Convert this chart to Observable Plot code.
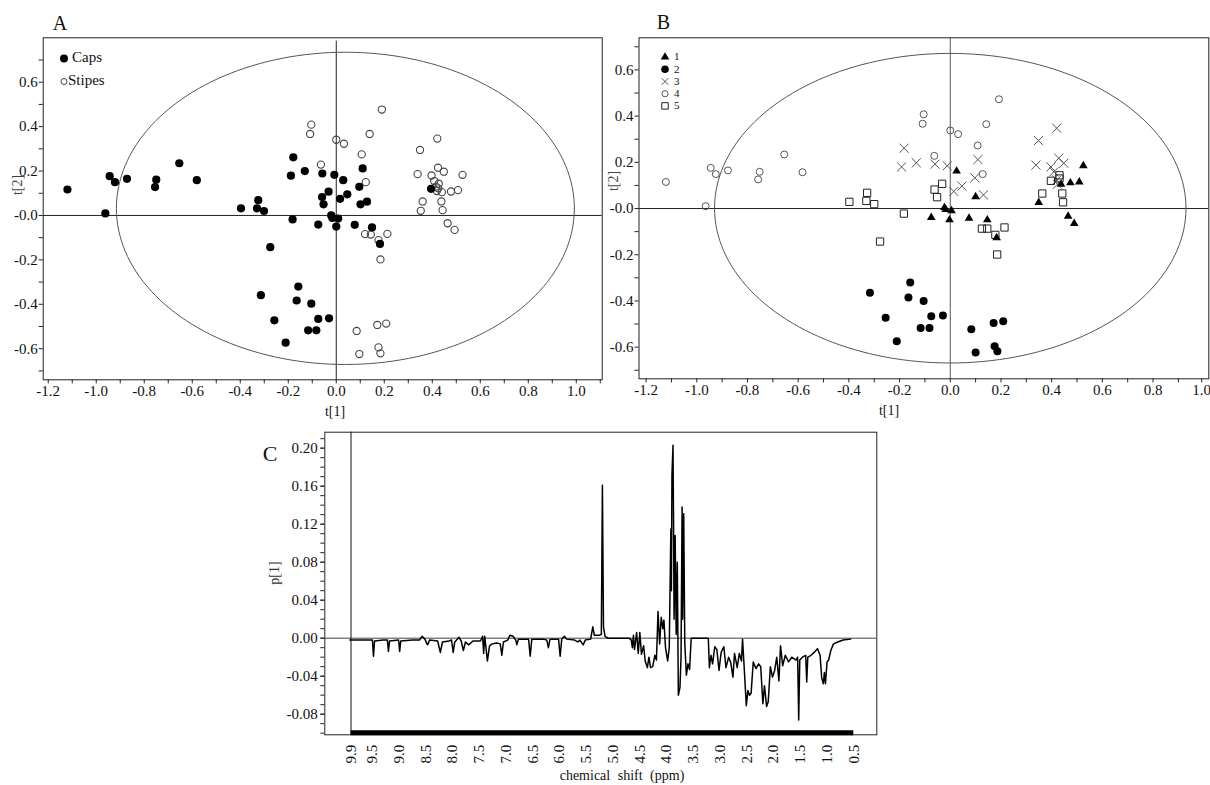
<!DOCTYPE html>
<html><head><meta charset="utf-8">
<script src="https://cdn.jsdelivr.net/npm/d3@7"></script>
<script src="https://cdn.jsdelivr.net/npm/@observablehq/plot@0.6"></script>
<style>
body{margin:0;background:#fff;}
#wrap{position:relative;width:1210px;height:785px;font-family:"Liberation Serif","Times New Roman",serif;color:#111;overflow:hidden;}
#wrap svg, #wrap svg g, #wrap svg text{font-family:"Liberation Serif","Times New Roman",serif !important;}
</style></head><body><div id="wrap"></div>
<script>
// ---------- Panel A data (t[1], t[2]) ----------
const capsX = [-1.12,-0.962,-0.944,-0.922,-0.872,-0.750,-0.755,-0.654,-0.581,-0.397,-0.325,-0.330,-0.301,-0.275,-0.179,-0.189,-0.131,-0.182,-0.058,-0.008,-0.032,-0.059,-0.053,0.029,0.016,0.046,-0.021,-0.016,0.008,0.0,-0.075,0.077,0.110,0.096,0.101,0.128,0.149,0.182,0.395,-0.158,-0.314,-0.165,-0.104,-0.258,-0.075,-0.030,-0.117,-0.083,-0.211];
const capsY = [0.117,0.009,0.177,0.150,0.165,0.161,0.128,0.235,0.159,0.032,0.069,0.032,0.020,-0.143,0.262,0.179,0.200,-0.018,0.189,0.183,0.107,0.083,0.050,0.159,0.075,0.095,0.0,-0.011,-0.014,-0.050,-0.041,-0.042,0.212,0.129,0.050,0.062,-0.054,-0.128,0.120,-0.320,-0.359,-0.383,-0.397,-0.472,-0.466,-0.463,-0.517,-0.517,-0.573];
const stipesX = [-0.104,-0.109,0.190,0.0,0.032,0.139,0.106,-0.064,0.123,0.120,0.144,0.213,0.176,0.184,0.085,0.171,0.208,0.176,0.184,0.096,0.421,0.349,0.339,0.397,0.424,0.448,0.526,0.408,0.427,0.419,0.440,0.478,0.507,0.360,0.438,0.352,0.443,0.464,0.493,0.415,0.425];
const stipesY = [0.409,0.367,0.477,0.341,0.323,0.367,0.275,0.229,0.150,-0.084,-0.086,-0.083,-0.111,-0.198,-0.520,-0.493,-0.487,-0.594,-0.621,-0.624,0.346,0.295,0.186,0.180,0.215,0.197,0.183,0.155,0.143,0.110,0.105,0.108,0.114,0.063,0.063,0.021,0.024,-0.035,-0.065,0.130,0.122];
const legendA = ["Caps", "Stipes"];

// ---------- Panel B data (five classes) ----------
const c1X = [0.025,0.100,-0.023,-0.018,0.005,-0.075,-0.003,0.074,0.146,0.183,0.349,0.437,0.474,0.509,0.525,0.465,0.489];
const c1Y = [0.162,0.051,0.004,-0.004,-0.010,-0.039,-0.049,-0.042,-0.049,-0.126,0.026,0.105,0.111,0.115,0.185,-0.033,-0.065];
const c2X = [-0.317,-0.158,-0.165,-0.105,-0.255,-0.075,-0.029,-0.117,-0.082,-0.211,0.083,0.171,0.209,0.175,0.186,0.100];
const c2Y = [-0.364,-0.320,-0.385,-0.400,-0.473,-0.466,-0.463,-0.517,-0.517,-0.574,-0.522,-0.495,-0.488,-0.596,-0.618,-0.623];
const c3X = [-0.182,-0.192,-0.134,-0.060,-0.012,0.109,0.097,0.014,0.046,0.131,0.420,0.348,0.338,0.428,0.448,0.397,0.409,0.420,0.423];
const c3Y = [0.261,0.180,0.198,0.192,0.185,0.212,0.133,0.074,0.097,0.059,0.348,0.294,0.188,0.218,0.196,0.180,0.159,0.123,0.105];
const c4X = [-1.122,-0.965,-0.945,-0.925,-0.877,-0.752,-0.758,-0.655,-0.583,-0.105,-0.109,0.192,0.0,0.031,0.142,0.108,-0.063,0.128];
const c4Y = [0.115,0.010,0.176,0.149,0.165,0.159,0.126,0.234,0.157,0.408,0.367,0.473,0.338,0.322,0.365,0.273,0.228,0.149];
const c5X = [-0.398,-0.328,-0.331,-0.300,-0.183,-0.277,-0.062,-0.032,-0.052,0.125,0.146,0.214,0.178,0.185,0.363,0.397,0.431,0.431,0.442,0.445];
const c5Y = [0.029,0.068,0.033,0.019,-0.022,-0.143,0.082,0.107,0.049,-0.087,-0.087,-0.082,-0.114,-0.199,0.065,0.120,0.144,0.130,0.065,0.027];
const legendB = ["1", "2", "3", "4", "5"];

// ---------- Panel C data (loading p[1] vs chemical shift) ----------
const specAromatic = [[9.92,-0.002],[9.75,-0.002],[9.55,-0.002],[9.50,-0.002],[9.48,-0.019],[9.46,-0.003],[9.30,-0.002],[9.22,-0.002],[9.20,-0.014],[9.18,-0.003],[9.01,-0.002],[8.99,-0.014],[8.97,-0.003],[8.75,-0.002],[8.62,-0.002],[8.57,0.002],[8.52,-0.001],[8.47,-0.007],[8.43,-0.002],[8.28,-0.003],[8.23,-0.015],[8.19,-0.004],[8.07,-0.003],[8.02,-0.002],[7.99,-0.015],[7.96,-0.004],[7.88,0.001],[7.84,-0.003],[7.80,-0.013],[7.76,-0.004],[7.70,-0.007],[7.62,-0.003],[7.48,-0.003],[7.44,0.002],[7.42,-0.016],[7.40,0.002],[7.35,-0.024],[7.31,-0.008],[7.26,-0.006],[7.18,-0.005],[7.11,-0.006],[7.08,-0.018],[7.05,-0.004],[6.97,-0.002],[6.93,0.003],[6.87,0.002],[6.82,-0.002],[6.80,-0.007],[6.77,-0.001],[6.58,-0.001],[6.55,-0.019],[6.52,-0.001],[6.30,-0.001],[6.24,-0.002],[6.21,-0.010],[6.18,-0.001],[6.02,-0.001],[5.99,-0.019],[5.96,-0.001],[5.91,0.002],[5.87,-0.001],[5.72,-0.002],[5.66,-0.004],[5.62,-0.002],[5.56,-0.007],[5.52,-0.002],[5.42,-0.001],[5.38,0.012],[5.35,0.003],[5.26,0.003],[5.22,0.004],[5.20,0.161],[5.18,0.012],[5.15,0.002],[5.10,0.0]];
const specSugar = [[4.70,0.0],[4.66,-0.002],[4.64,-0.010],[4.62,0.003],[4.60,-0.012],[4.56,0.006],[4.53,-0.016],[4.50,0.006],[4.47,-0.017],[4.43,-0.008],[4.40,-0.024],[4.36,-0.031],[4.33,-0.020],[4.30,-0.031],[4.26,-0.030],[4.22,-0.018],[4.19,-0.023],[4.16,0.028],[4.13,-0.006],[4.10,0.022],[4.07,0.010],[4.05,0.019],[4.02,-0.010],[3.98,-0.024],[3.95,-0.010],[3.92,0.115],[3.91,0.050],[3.90,0.171],[3.88,0.203],[3.87,0.120],[3.86,0.020],[3.84,0.108],[3.82,0.004],[3.80,0.080],[3.78,-0.060],[3.75,-0.052],[3.73,-0.020],[3.71,0.138],[3.70,0.020],[3.68,0.131],[3.66,-0.005],[3.63,-0.039],[3.60,-0.027],[3.57,-0.033],[3.54,0.0],[3.22,0.0]];
const specAliphatic = [[3.20,-0.031],[3.17,-0.018],[3.14,-0.027],[3.10,-0.009],[3.06,-0.012],[3.02,-0.034],[2.98,-0.015],[2.93,-0.009],[2.89,-0.031],[2.84,-0.020],[2.80,-0.026],[2.76,-0.041],[2.73,-0.016],[2.68,-0.031],[2.64,-0.016],[2.60,-0.024],[2.58,-0.001],[2.55,-0.030],[2.51,-0.071],[2.48,-0.055],[2.45,-0.060],[2.42,-0.058],[2.38,-0.025],[2.33,-0.032],[2.28,-0.027],[2.24,-0.030],[2.20,-0.069],[2.17,-0.050],[2.13,-0.072],[2.10,-0.067],[2.06,-0.030],[2.02,-0.041],[1.98,-0.034],[1.94,-0.020],[1.90,-0.045],[1.87,-0.008],[1.83,-0.029],[1.78,-0.018],[1.72,-0.025],[1.66,-0.020],[1.58,-0.023],[1.55,-0.020],[1.53,-0.086],[1.51,-0.023],[1.46,-0.020],[1.40,-0.018],[1.38,-0.046],[1.36,-0.020],[1.30,-0.018],[1.24,-0.015],[1.18,-0.011],[1.13,-0.018],[1.10,-0.042],[1.07,-0.048],[1.05,-0.036],[1.03,-0.048],[1.00,-0.025],[0.97,-0.023],[0.93,-0.013],[0.88,-0.006],[0.80,-0.004],[0.70,-0.002],[0.56,-0.001]];

// ---------- ticks ----------
const scoreTicksX = [-1.2,-1.0,-0.8,-0.6,-0.4,-0.2,0,0.2,0.4,0.6,0.8,1.0];
const scoreMinorX = [-1.1,-0.9,-0.7,-0.5,-0.3,-0.1,0.1,0.3,0.5,0.7,0.9,1.1];
const scoreTicksY = [-0.6,-0.4,-0.2,0,0.2,0.4,0.6];
const scoreMinorY = [-0.7,-0.5,-0.3,-0.1,0.1,0.3,0.5,0.7];
const loadTicksY = [-0.08,-0.04,0.00,0.04,0.08,0.12,0.16,0.20];
const shiftTicks = [9.9,9.5,9.0,8.5,8.0,7.5,7.0,6.5,6.0,5.5,5.0,4.5,4.0,3.5,3.0,2.5,2.0,1.5,1.0,0.5];

// ---------- helpers ----------
const SERIF = '"Liberation Serif", "Times New Roman", serif';
const wrap = document.getElementById("wrap");
const zip = (xs, ys) => xs.map((x, i) => ({x, y: ys[i]}));
const ellipse = e => d3.range(0, 361, 2).map(t => ({x: e.cx + e.rx * Math.cos(t * Math.PI / 180), y: e.cy + e.ry * Math.sin(t * Math.PI / 180)}));
const fmtY = d => Math.abs(d) < 1e-9 ? "-0.0" : d.toFixed(1);
const fmtX = d => d.toFixed(1);
const style = {background: "transparent", fontFamily: SERIF, fontSize: "15px", color: "#111", overflow: "visible"};
function put(node, left, top) { node.style.position = "absolute"; node.style.left = left + "px"; node.style.top = top + "px"; wrap.appendChild(node); }
function label(txt, cx, cy, size, o = {}) {
  const d = document.createElement("div");
  d.textContent = txt;
  d.style.cssText = `position:absolute;left:${cx}px;top:${cy}px;font-size:${size}px;line-height:${o.lh || 1};white-space:nowrap;transform:translate(${o.left ? "0" : "-50%"},-50%)${o.rotate ? " rotate(-90deg)" : ""};color:${o.color || "#111"};${o.extra || ""}`;
  wrap.appendChild(d);
}
function scoreAxes(xDom, yDom, lastDx) {
  const inX = v => v >= xDom[0] && v <= xDom[1];
  const inY = v => v >= yDom[0] && v <= yDom[1];
  const majX = scoreTicksX.filter(inX);
  const ax = {tickSize: 4, tickPadding: 2, tickFormat: fmtX, label: null, stroke: "#222", fontFamily: SERIF, fontSize: 15};
  return [
    Plot.axisX(scoreMinorX.filter(inX), {tickSize: 4, tickFormat: () => "", label: null, stroke: "#222"}),
    Plot.axisX(majX.slice(0, -1), ax),
    Plot.axisX(majX.slice(-1), {...ax, dx: lastDx}),
    Plot.axisY(scoreMinorY.filter(inY), {tickSize: 4, tickFormat: () => "", label: null, stroke: "#222"}),
    Plot.axisY(scoreTicksY.filter(inY), {tickSize: 4, tickPadding: 1.5, tickFormat: fmtY, label: null, stroke: "#222", fontFamily: SERIF, fontSize: 15}),
    Plot.frame({stroke: "#222"})
  ];
}

// ---------- Panel A ----------
const xDomA = [-1.221, 1.108], yDomA = [-0.74, 0.80];
const plotA = Plot.plot({
  width: 605, height: 420, marginLeft: 42.7, marginRight: 3.3, marginTop: 37.3, marginBottom: 40.7,
  x: {domain: xDomA, label: null}, y: {domain: yDomA, label: null}, style,
  marks: [
    ...scoreAxes(xDomA, yDomA, 0),
    Plot.ruleY([0], {stroke: "#222"}),
    Plot.ruleX([0], {y1: yDomA[0], y2: 0.785, stroke: "#222"}),
    Plot.line(ellipse({cx: 0.038, cy: 0.032, rx: 0.954, ry: 0.703}), {x: "x", y: "y", stroke: "#555", strokeWidth: 1}),
    Plot.dot(zip(stipesX, stipesY), {x: "x", y: "y", r: 3.6, stroke: "#444", strokeWidth: 1.1, fill: "none"}),
    Plot.dot(zip(capsX, capsY), {x: "x", y: "y", r: 4.1, fill: "#000", stroke: "none"})
  ]
});
put(plotA, 0, 0);

// ---------- Panel B ----------
const xDomB = [-1.228, 1.02], yDomB = [-0.737, 0.739];
const plotB = Plot.plot({
  width: 605, height: 420, marginLeft: 33.5, marginRight: 1.7, marginTop: 37.3, marginBottom: 41.7,
  x: {domain: xDomB, label: null}, y: {domain: yDomB, label: null}, style,
  marks: [
    ...scoreAxes(xDomB, yDomB, -2),
    Plot.ruleY([0], {stroke: "#222"}),
    Plot.ruleX([0], {stroke: "#555"}),
    Plot.line(ellipse({cx: 0, cy: 0.0015, rx: 0.93, ry: 0.67}), {x: "x", y: "y", stroke: "#555", strokeWidth: 1}),
    Plot.dot(zip(c4X, c4Y), {x: "x", y: "y", r: 3.5, stroke: "#555", strokeWidth: 1, fill: "none"}),
    Plot.dot(zip(c3X, c3Y), {x: "x", y: "y", symbol: "times", r: 4.2, stroke: "#555", strokeWidth: 1}),
    Plot.dot(zip(c5X, c5Y), {x: "x", y: "y", symbol: "square", r: 4.1, stroke: "#222", strokeWidth: 1, fill: "none"}),
    Plot.dot(zip(c2X, c2Y), {x: "x", y: "y", r: 4.0, fill: "#000", stroke: "none"}),
    Plot.dot(zip(c1X, c1Y), {x: "x", y: "y", symbol: "triangle", r: 3.2, fill: "#000", stroke: "none"})
  ]
});
put(plotB, 605, 0);

// ---------- Panel C ----------
const spectrum = [...specAromatic, ...specSugar, ...specAliphatic].map(([ppm, p]) => ({ppm, p}));
const xDomC = [10.39, 0.07], yDomC = [-0.1017, 0.2168];
const minorC = d3.range(-10, 22).map(i => i / 100);
const plotC = Plot.plot({
  width: 680, height: 365, marginLeft: 94.3, marginRight: 33.7, marginTop: 11.7, marginBottom: 50.7,
  x: {domain: xDomC, label: null}, y: {domain: yDomC, label: null}, style,
  marks: [
    Plot.axisY(minorC, {tickSize: 4, tickFormat: () => "", label: null, stroke: "#222"}),
    Plot.axisY(loadTicksY, {tickSize: 4, tickPadding: 3, tickFormat: d => d.toFixed(2), label: null, stroke: "#222", fontFamily: SERIF, fontSize: 15}),
    Plot.axisX(shiftTicks, {tickSize: 0, tickPadding: 10, tickRotate: -90, tickFormat: fmtX, label: null, fontFamily: SERIF, fontSize: 15}),
    Plot.frame({stroke: "#222"}),
    Plot.ruleY([0], {stroke: "#444"}),
    Plot.ruleX([d3.max(shiftTicks)], {stroke: "#111"}),
    Plot.ruleY([yDomC[0]], {x1: d3.max(shiftTicks), x2: d3.min(shiftTicks), stroke: "#000", strokeWidth: 5, dy: -2}),
    Plot.line(spectrum, {x: "ppm", y: "p", stroke: "#000", strokeWidth: 1.5})
  ]
});
put(plotC, 230, 420);

// ---------- panel letters & axis titles ----------
label("A", 60, 23, 20);
label("B", 663.5, 22, 20);
label("C", 270, 454, 22);
label("t[1]", 335, 412, 14);
label("t[1]", 889, 411, 14);
label("t[2]", 18, 185, 14, {rotate: true, color: "#444"});
label("t[2]", 614, 181, 14, {rotate: true, color: "#444"});
label("p[1]", 275, 573, 14, {rotate: true, color: "#333"});
label("chemical shift (ppm)", 622, 776, 14, {extra: "word-spacing:4px;"});

// ---------- legends ----------
function legendSvg(items, left, top, rowH) {
  const svg = d3.create("svg").attr("width", 14).attr("height", rowH * items.length + 4);
  items.forEach((it, i) => {
    svg.append("path").attr("transform", `translate(7,${rowH * i + rowH / 2 + 1})`)
      .attr("d", d3.symbol(it.type, it.size)())
      .attr("fill", it.fill).attr("stroke", it.stroke).attr("stroke-width", 1);
  });
  put(svg.node(), left, top);
}
legendSvg([{type: d3.symbolCircle, size: 50, fill: "#000", stroke: "none"},
           {type: d3.symbolCircle, size: 28, fill: "none", stroke: "#444"}], 57, 45.5, 23);
label(legendA[0], 72, 57, 15, {left: true});
label(legendA[1], 68, 80, 15, {left: true});

const symB = [{type: d3.symbolTriangle, size: 32, fill: "#000", stroke: "none"},
              {type: d3.symbolCircle, size: 45, fill: "#000", stroke: "none"},
              {type: d3.symbolTimes, size: 30, fill: "none", stroke: "#555"},
              {type: d3.symbolCircle, size: 30, fill: "none", stroke: "#555"},
              {type: d3.symbolSquare, size: 42, fill: "none", stroke: "#222"}];
legendSvg(symB, 658, 50.2, 12.2);
legendB.forEach((t, i) => label(t, 674, 57.3 + 12.2 * i, 11, {left: true, lh: 0.85}));
</script>
</body></html>
